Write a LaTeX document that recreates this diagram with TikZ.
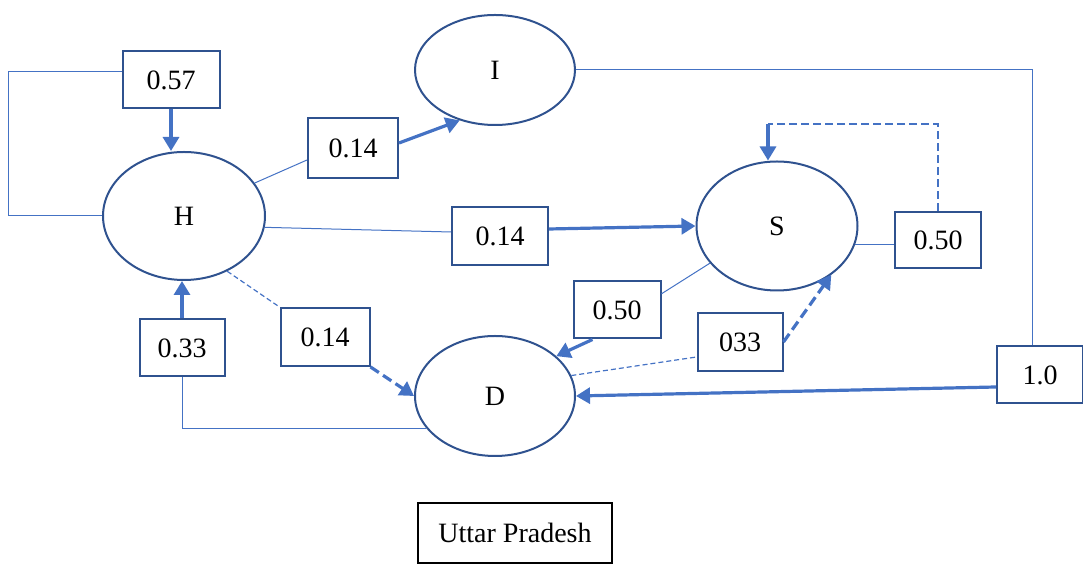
\documentclass[tikz,border=0pt]{standalone}
\usepackage{fontspec}
\setmainfont{Liberation Serif}
\usepackage{xcolor}
\usepackage{tikz}
\usetikzlibrary{positioning,shapes.geometric,arrows.meta}
\definecolor{linecol}{RGB}{68,114,196}
\definecolor{rimcol}{RGB}{47,82,143}
\tikzset{
  state/.style={ellipse, draw=rimcol, line width=1pt, inner sep=0pt,
    font=\fontsize{14}{16}\selectfont},
  wbox/.style={rectangle, draw=rimcol, line width=1pt, minimum width=44pt,
    minimum height=28.5pt, inner sep=0pt, font=\fontsize{14}{16}\selectfont},
  thinline/.style={draw=linecol, line width=0.5pt},
  thickarrow/.style={draw=linecol, line width=1.6pt,
    -{Triangle[length=7pt,width=8pt]}},
  dashthin/.style={draw=linecol, line width=0.6pt, dash pattern=on 2.5pt off 1.5pt},
  dasharrow/.style={thickarrow, dash pattern=on 5pt off 2.5pt}
}

\begin{document}
\begin{tikzpicture}[x=0.5pt,y=-0.5pt]
\useasboundingbox (0,0) rectangle (1083,565);

% the four states
\node[state, minimum width=80pt, minimum height=55pt] (I) at (495,70) {I};
\node[state, minimum width=81pt, minimum height=64pt] (H) at (184,216) {H};
\node[state, minimum width=80.5pt, minimum height=64.5pt] (S) at (777,226) {S};
\node[state, minimum width=80pt, minimum height=60pt] (D) at (495,396) {D};

% transition values
\node[wbox, minimum width=48.5pt] (b57) at (171,80) {0.57};
\node[wbox, minimum width=45pt, minimum height=30pt] (b14a) at (353,148) {0.14};
\node[wbox, minimum width=48pt, minimum height=29pt] (b14b) at (500,236) {0.14};
\node[wbox, minimum width=44.5pt, minimum height=29pt] (b14c) at (325,337) {0.14};
\node[wbox, minimum width=42.5pt] (b33) at (182,348) {0.33};
\node[wbox, minimum width=43.5pt] (b50b) at (617,310) {0.50};
\node[wbox, minimum width=42.5pt, minimum height=29pt] (b033) at (740,342) {033};
\node[wbox, minimum width=43pt, minimum height=28pt] (b50a) at (938,240) {0.50};
\node[wbox, minimum width=43pt] (b10) at (1040,375) {1.0};
\node[rectangle, draw=black, line width=0.6pt, minimum width=97pt, minimum height=30pt,
  font=\fontsize{14}{16}\selectfont] (title) at (515,533) {Uttar Pradesh};

% H -> H
\draw[thinline] ([yshift=4pt]b57.west) -- ++(-113,0) |- (H.west);
\draw[thickarrow] (b57.south) -- (b57.south |- H.north);
% H -> I
\draw[thinline] (H.25) -- ([yshift=-6pt]b14a.west);
\draw[thickarrow] ([yshift=2.5pt]b14a.east) -- (I.235);
% H -> S
\draw[thinline] (H.-8) -- ([yshift=2pt]b14b.west);
\draw[thickarrow] ([yshift=3.5pt]b14b.east) -- (S.west);
% H -> D
\draw[dashthin] (H.-52) -- (b14c.north west);
\draw[dasharrow] (b14c.south east) -- (D.west);
% D -> H
\draw[thickarrow] (b33.north) -- (b33.north |- H.south);
\draw[thinline] (b33.south) |- (D.205);
% I -> D
\draw[thinline] (I.east) -| ([xshift=-4pt]b10.north);
\draw[thickarrow] ([yshift=-6pt]b10.west) -- (D.east);
% S -> S
\coordinate (sfb) at (768,124);
\draw[thinline] (S.-13) -- (S.-13 -| b50a.west);
\draw[dashthin, line width=0.9pt, dash pattern=on 4pt off 2pt] (b50a.north) |- (sfb);
\draw[thickarrow] (sfb) -- (sfb |- S.north);
% S -> D
\draw[thinline] (S.209) -- (b50b.20);
\draw[thickarrow] ([xshift=10pt]b50b.south west) -- (D.33);
% D -> S
\draw[dashthin] (D.15) -- ([yshift=-7.5pt]b033.west);
\draw[dasharrow] (b033.east) -- (S.-42);
\end{tikzpicture}
\end{document}
